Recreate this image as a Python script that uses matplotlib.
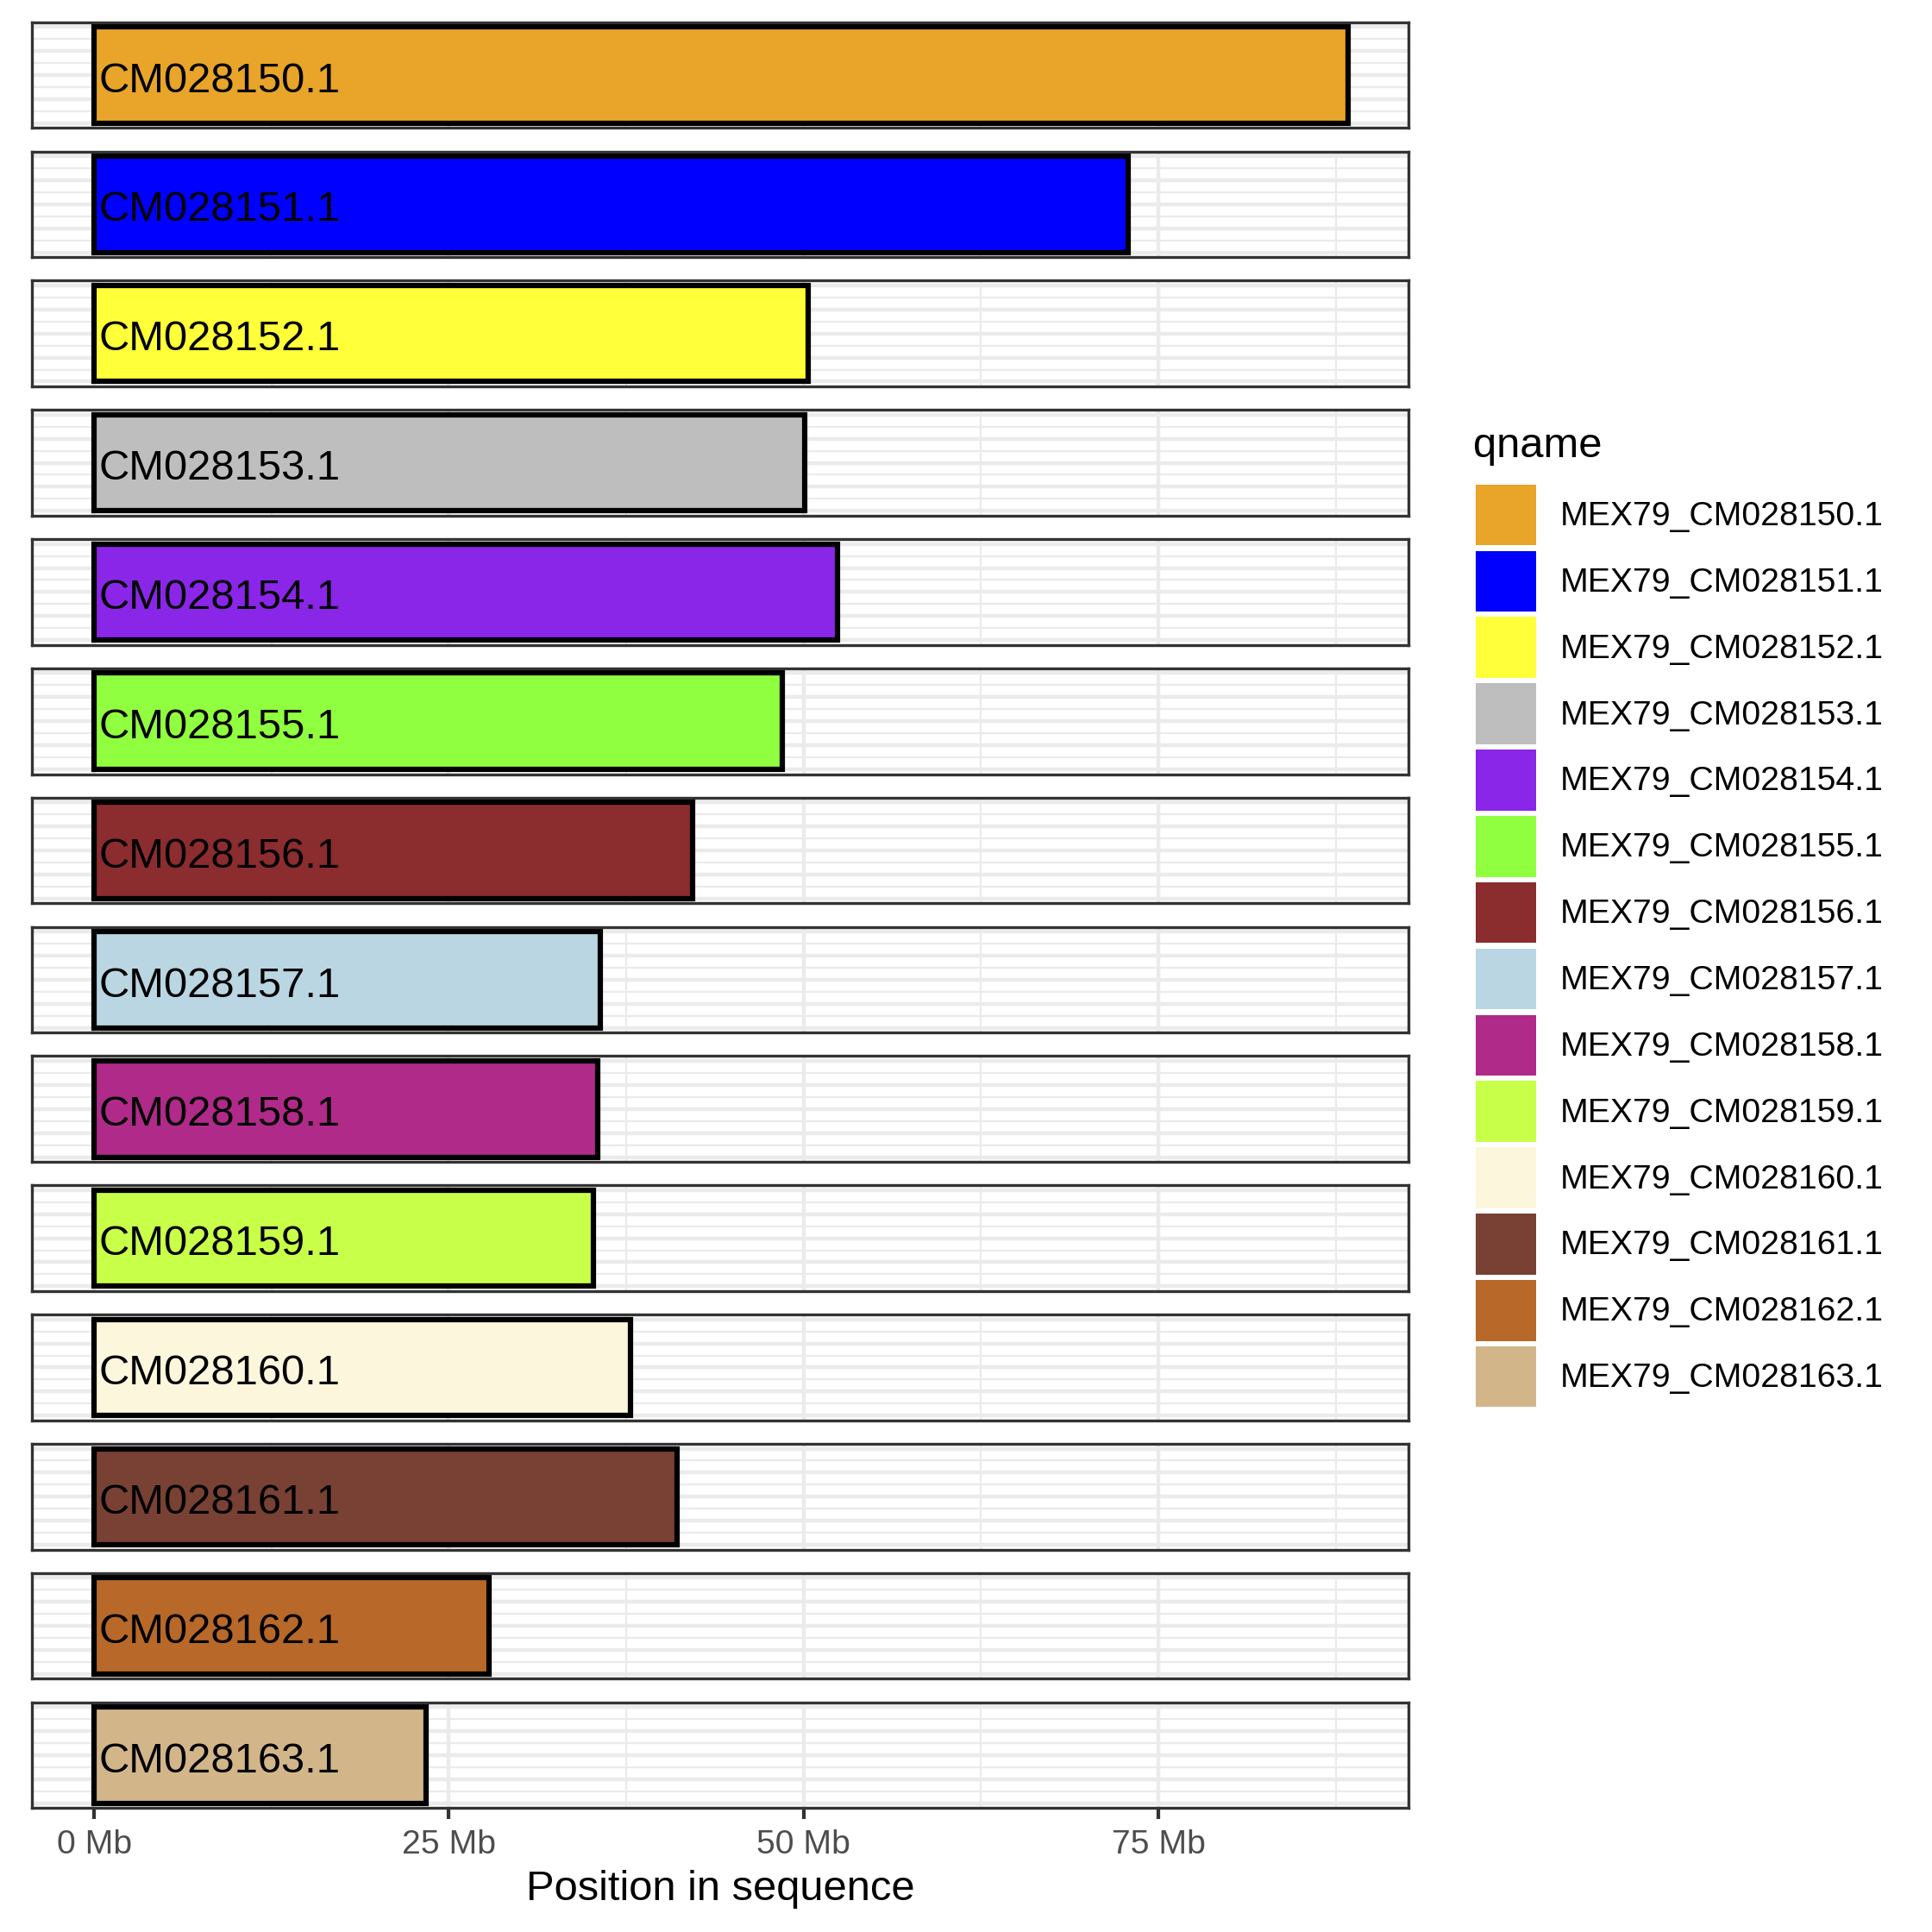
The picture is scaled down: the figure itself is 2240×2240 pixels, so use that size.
import matplotlib
matplotlib.use("Agg")
import matplotlib.pyplot as plt
from matplotlib.patches import Patch

plt.rcParams['font.family'] = ['Liberation Sans', 'DejaVu Sans']

# ---- data ----
chroms = ["CM028150.1", "CM028151.1", "CM028152.1", "CM028153.1", "CM028154.1",
          "CM028155.1", "CM028156.1", "CM028157.1", "CM028158.1", "CM028159.1",
          "CM028160.1", "CM028161.1", "CM028162.1", "CM028163.1"]
qnames = ["MEX79_CM028150.1", "MEX79_CM028151.1", "MEX79_CM028152.1", "MEX79_CM028153.1",
          "MEX79_CM028154.1", "MEX79_CM028155.1", "MEX79_CM028156.1", "MEX79_CM028157.1",
          "MEX79_CM028158.1", "MEX79_CM028159.1", "MEX79_CM028160.1", "MEX79_CM028161.1",
          "MEX79_CM028162.1", "MEX79_CM028163.1"]
lengths_mb = [88.4, 72.9, 50.3, 50.1, 52.4, 48.5, 42.2, 35.7, 35.5, 35.2, 37.8, 41.1, 27.8, 23.4]
colors = ["#E8A52A", "#0000FF", "#FFFF3A", "#BEBEBE", "#8A26E8", "#8FFF3F", "#8B2C2F",
          "#B9D6E2", "#AF2A89", "#C8FF48", "#FCF7DC", "#784134", "#B86828", "#D2B68A"]
xticks = [0, 25, 50, 75]
xminor = [12.5, 37.5, 62.5, 87.5]
xtick_labels = ["0 Mb", "25 Mb", "50 Mb", "75 Mb"]
yticks = [0, 0.25, 0.5, 0.75, 1.0]
yminor = [0.125, 0.375, 0.625, 0.875]

W = 2240.0
fig, axes = plt.subplots(len(chroms), 1, figsize=(7, 7), dpi=320, sharex=True)
fig.subplots_adjust(left=37.3 / W, right=1633.3 / W, top=1 - 25.7 / W, bottom=1 - 2096.3 / W,
                    hspace=0.222)

XLIM = (-4.37, 92.65)
for i, ax in enumerate(axes):
    ax.set_axisbelow(True)
    ax.barh(0.5, lengths_mb[i], height=1.0, left=0, color=colors[i],
            edgecolor="black", linewidth=1.4, zorder=2)
    ax.annotate(chroms[i], xy=(0, 0.5), xytext=(1.2, -1.6), textcoords="offset points",
                ha="left", va="center", fontsize=11, color="black", zorder=3)
    ax.set_xlim(*XLIM)
    ax.set_ylim(-0.05, 1.05)
    ax.set_xticks(xticks)
    ax.set_xticks(xminor, minor=True)
    ax.set_yticks(yticks)
    ax.set_yticks(yminor, minor=True)
    ax.grid(which="major", color="#EBEBEB", linewidth=1.0)
    ax.grid(which="minor", color="#EBEBEB", linewidth=0.5)
    ax.tick_params(axis="y", which="both", left=False, labelleft=False)
    ax.tick_params(axis="x", which="minor", length=0)
    for s in ax.spines.values():
        s.set_color("#333333")
        s.set_linewidth(0.75)
    if i < len(chroms) - 1:
        ax.tick_params(axis="x", which="both", bottom=False, labelbottom=False)
    else:
        ax.set_xticklabels(xtick_labels)
        ax.tick_params(axis="x", which="major", length=2.9, width=0.95,
                       color="#333333", labelcolor="#4D4D4D", labelsize=8.8, pad=2.6)
        ax.set_xlabel("Position in sequence", fontsize=11, labelpad=2.6)

fig.text(1708 / W, 1 - 530 / W, "qname", fontsize=11, ha="left", va="baseline")

handles = [Patch(facecolor=c, edgecolor="none") for c in colors]
fig.legend(handles, qnames, loc="upper left", bbox_to_anchor=(1711 / W, 1 - 561.7 / W),
           frameon=False, fontsize=8.8,
           handlelength=1.80, handleheight=2.40, labelspacing=0.16, handletextpad=0.71,
           borderpad=0, borderaxespad=0)

fig.savefig("out.png", dpi=320)
